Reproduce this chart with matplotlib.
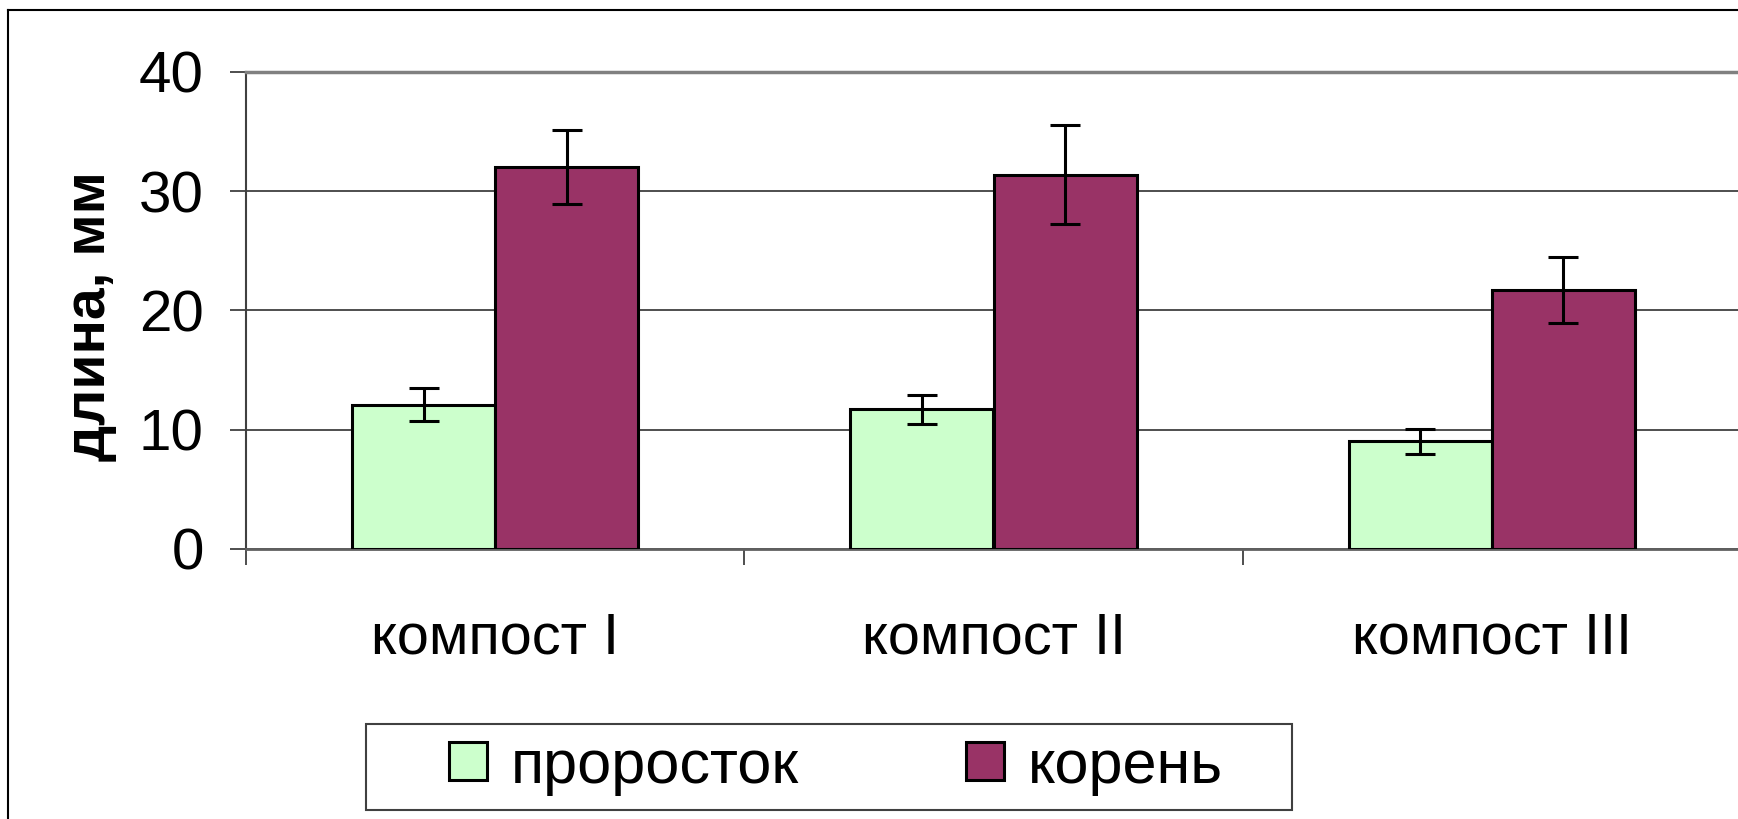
import numpy as np
import matplotlib.pyplot as plt
from matplotlib.patches import Rectangle, Patch
from matplotlib.lines import Line2D

plt.rcParams['font.family'] = ['Liberation Sans', 'DejaVu Sans']

# data
categories = ['компост I', 'компост II', 'компост III']
sprout = [12.1, 11.7, 9.05]        # проросток
sprout_err = [1.4, 1.2, 1.05]
root = [32.05, 31.4, 21.7]         # корень
root_err = [3.1, 4.15, 2.75]
series_names = ['проросток', 'корень']
yticks = [0, 10, 20, 30, 40]

W, H = 1738, 819
fig = plt.figure(figsize=(W / 100, H / 100), dpi=100)
fig.patch.set_facecolor('white')

# plot area (right edge runs just past the picture)
left, right, top, bottom = 246, 1741, 72, 549
ax = fig.add_axes([left / W, 1 - bottom / H, (right - left) / W, (bottom - top) / H])

x = np.arange(len(categories))
bw = 0.287
green, maroon = '#CCFFCC', '#993366'
err_kw = dict(ecolor='black', elinewidth=2.2, capsize=11, capthick=2.2)

ax.bar(x - bw / 2, sprout, bw, color=green, edgecolor='black', linewidth=2.2,
       yerr=sprout_err, error_kw=err_kw, zorder=3)
ax.bar(x + bw / 2, root, bw, color=maroon, edgecolor='black', linewidth=2.2,
       yerr=root_err, error_kw=err_kw, zorder=3)

ax.set_xlim(-0.5, len(categories) - 0.5)
ax.set_ylim(0, 40)
ax.set_yticks(yticks)
ax.yaxis.grid(True, color='#303030', linewidth=1.2, zorder=0)
ax.set_axisbelow(True)

# labels at centers, tick marks at category boundaries
ax.set_xticks(x)
ax.set_xticklabels(categories, fontsize=41.5)
ax.set_xticks(np.arange(len(categories) + 1) - 0.5, minor=True)
ax.tick_params(axis='x', which='major', length=0, pad=45)
ax.tick_params(axis='x', which='minor', length=11.5, width=1.2, color='#303030')
ax.tick_params(axis='y', length=11.5, width=1.2, color='#303030', labelsize=42, pad=19)

ax.spines['top'].set_color('#808080')
ax.spines['top'].set_linewidth(2.5)
ax.spines['right'].set_visible(False)
ax.spines['left'].set_color('#404040')
ax.spines['left'].set_linewidth(1.5)
ax.spines['bottom'].set_color('#606060')
ax.spines['bottom'].set_linewidth(2.0)

fig.text(90 / W, 1 - 316 / H, 'длина, мм', rotation=90, ha='center', va='center',
         fontsize=41, fontweight='bold')

# outer chart frame (only left and top edges fall inside the picture)
fig.add_artist(Line2D([8 / W, 8 / W], [-0.1, 1 - 10 / H], color='black', linewidth=1.5))
fig.add_artist(Line2D([8 / W, 1.1], [1 - 10 / H, 1 - 10 / H], color='black', linewidth=1.5))

# legend box
fig.add_artist(Rectangle((366 / W, 1 - 810 / H), (1292 - 366) / W, (810 - 724) / H,
                         transform=fig.transFigure, facecolor='white',
                         edgecolor='#404040', linewidth=1.5))
handles = [Patch(facecolor=green, edgecolor='black', linewidth=2.2),
           Patch(facecolor=maroon, edgecolor='black', linewidth=2.2)]
fig.legend(handles, series_names, loc='center', bbox_to_anchor=(836 / W, 1 - 767 / H),
           ncol=2, frameon=False, fontsize=44, handlelength=0.62, handleheight=0.6,
           handletextpad=0.39, columnspacing=2.74, borderpad=0)

fig.savefig('out.png', dpi=100)
